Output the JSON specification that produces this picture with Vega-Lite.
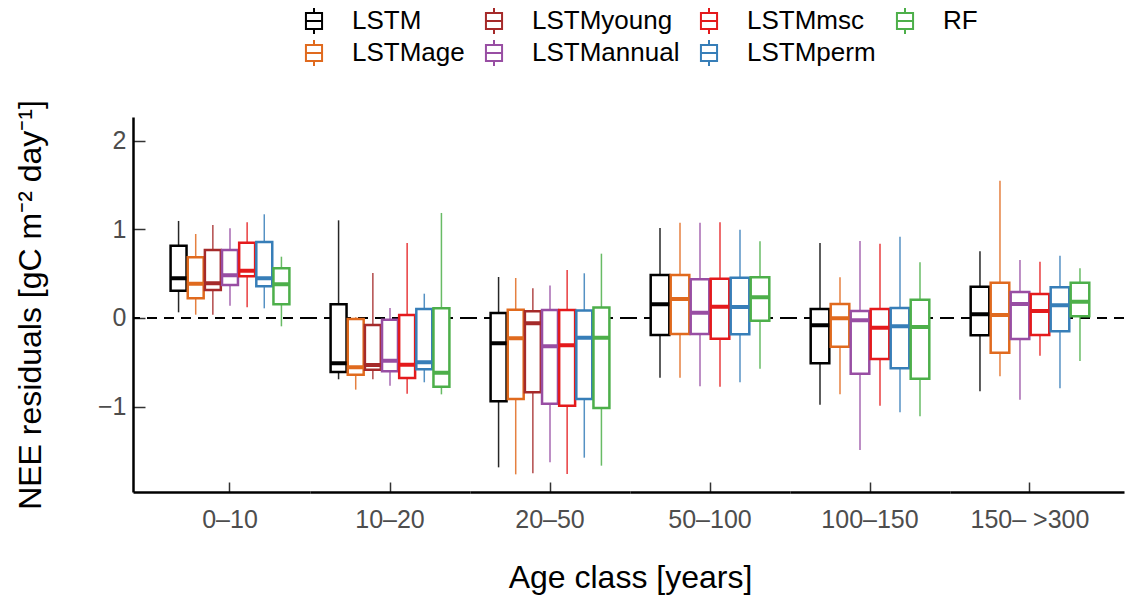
{
  "$schema": "https://vega.github.io/schema/vega-lite/v6.json",
  "padding": {"left": 14, "top": 7, "right": 5, "bottom": 5},
  "bounds": "flush",
  "datasets": {
    "box": [
      {"age": "0–10", "model": "LSTM", "lo": 0.064, "q1": 0.308, "med": 0.447, "q3": 0.815, "hi": 1.094},
      {"age": "0–10", "model": "LSTMage", "lo": 0.037, "q1": 0.222, "med": 0.387, "q3": 0.684, "hi": 0.947},
      {"age": "0–10", "model": "LSTMyoung", "lo": 0.037, "q1": 0.316, "med": 0.391, "q3": 0.767, "hi": 1.049},
      {"age": "0–10", "model": "LSTMannual", "lo": 0.139, "q1": 0.372, "med": 0.481, "q3": 0.767, "hi": 1.011},
      {"age": "0–10", "model": "LSTMmsc", "lo": 0.121, "q1": 0.47, "med": 0.533, "q3": 0.849, "hi": 1.079},
      {"age": "0–10", "model": "LSTMperm", "lo": 0.109, "q1": 0.357, "med": 0.447, "q3": 0.857, "hi": 1.169},
      {"age": "0–10", "model": "RF", "lo": -0.094, "q1": 0.154, "med": 0.38, "q3": 0.56, "hi": 0.691},
      {"age": "10–20", "model": "LSTM", "lo": -0.691, "q1": -0.609, "med": -0.511, "q3": 0.154, "hi": 1.101},
      {"age": "10–20", "model": "LSTMage", "lo": -0.808, "q1": -0.639, "med": -0.556, "q3": -0.011, "hi": 0.008},
      {"age": "10–20", "model": "LSTMyoung", "lo": -0.691, "q1": -0.583, "med": -0.53, "q3": -0.079, "hi": 0.507},
      {"age": "10–20", "model": "LSTMannual", "lo": -0.763, "q1": -0.601, "med": -0.481, "q3": -0.019, "hi": 0.113},
      {"age": "10–20", "model": "LSTMmsc", "lo": -0.853, "q1": -0.676, "med": -0.526, "q3": 0.034, "hi": 0.846},
      {"age": "10–20", "model": "LSTMperm", "lo": -0.725, "q1": -0.579, "med": -0.5, "q3": 0.101, "hi": 0.274},
      {"age": "10–20", "model": "RF", "lo": -0.861, "q1": -0.774, "med": -0.617, "q3": 0.109, "hi": 1.184},
      {"age": "20–50", "model": "LSTM", "lo": -1.684, "q1": -0.94, "med": -0.286, "q3": 0.056, "hi": 0.462},
      {"age": "20–50", "model": "LSTMage", "lo": -1.763, "q1": -0.913, "med": -0.229, "q3": 0.094, "hi": 0.451},
      {"age": "20–50", "model": "LSTMyoung", "lo": -1.751, "q1": -0.838, "med": -0.06, "q3": 0.075, "hi": 0.335},
      {"age": "20–50", "model": "LSTMannual", "lo": -1.627, "q1": -0.966, "med": -0.32, "q3": 0.09, "hi": 0.365},
      {"age": "20–50", "model": "LSTMmsc", "lo": -1.759, "q1": -0.989, "med": -0.308, "q3": 0.09, "hi": 0.541},
      {"age": "20–50", "model": "LSTMperm", "lo": -1.575, "q1": -0.913, "med": -0.222, "q3": 0.083, "hi": 0.504},
      {"age": "20–50", "model": "RF", "lo": -1.665, "q1": -1.015, "med": -0.222, "q3": 0.117, "hi": 0.725},
      {"age": "50–100", "model": "LSTM", "lo": -0.673, "q1": -0.192, "med": 0.154, "q3": 0.485, "hi": 1.015},
      {"age": "50–100", "model": "LSTMage", "lo": -0.673, "q1": -0.18, "med": 0.214, "q3": 0.485, "hi": 1.075},
      {"age": "50–100", "model": "LSTMannual", "lo": -0.77, "q1": -0.18, "med": 0.06, "q3": 0.436, "hi": 1.075},
      {"age": "50–100", "model": "LSTMmsc", "lo": -0.774, "q1": -0.233, "med": 0.128, "q3": 0.443, "hi": 1.079},
      {"age": "50–100", "model": "LSTMperm", "lo": -0.725, "q1": -0.184, "med": 0.124, "q3": 0.455, "hi": 0.996},
      {"age": "50–100", "model": "RF", "lo": -0.571, "q1": -0.03, "med": 0.233, "q3": 0.458, "hi": 0.865},
      {"age": "100–150", "model": "LSTM", "lo": -0.977, "q1": -0.511, "med": -0.083, "q3": 0.101, "hi": 0.846},
      {"age": "100–150", "model": "LSTMage", "lo": -0.861, "q1": -0.323, "med": -0.004, "q3": 0.158, "hi": 0.459},
      {"age": "100–150", "model": "LSTMannual", "lo": -1.488, "q1": -0.628, "med": -0.026, "q3": 0.079, "hi": 0.868},
      {"age": "100–150", "model": "LSTMmsc", "lo": -0.989, "q1": -0.462, "med": -0.109, "q3": 0.101, "hi": 0.838},
      {"age": "100–150", "model": "LSTMperm", "lo": -1.063, "q1": -0.567, "med": -0.094, "q3": 0.113, "hi": 0.917},
      {"age": "100–150", "model": "RF", "lo": -1.108, "q1": -0.684, "med": -0.101, "q3": 0.206, "hi": 0.628},
      {"age": "150– >300", "model": "LSTM", "lo": -0.827, "q1": -0.195, "med": 0.041, "q3": 0.353, "hi": 0.752},
      {"age": "150– >300", "model": "LSTMage", "lo": -0.658, "q1": -0.391, "med": 0.034, "q3": 0.398, "hi": 1.548},
      {"age": "150– >300", "model": "LSTMannual", "lo": -0.921, "q1": -0.237, "med": 0.158, "q3": 0.293, "hi": 0.654},
      {"age": "150– >300", "model": "LSTMmsc", "lo": -0.425, "q1": -0.192, "med": 0.079, "q3": 0.271, "hi": 0.635},
      {"age": "150– >300", "model": "LSTMperm", "lo": -0.793, "q1": -0.15, "med": 0.143, "q3": 0.346, "hi": 0.703},
      {"age": "150– >300", "model": "RF", "lo": -0.485, "q1": 0.019, "med": 0.184, "q3": 0.398, "hi": 0.56}
    ]
  },
  "data": {"name": "box"},
  "spacing": 0,
  "hconcat": [
    {
      "width": 177, "height": 375,
      "transform": [{"filter": "datum.age === '0–10'"}],
      "layer": [
        {"mark": {"type": "rule", "strokeDash": [10, 7], "strokeWidth": 2.2, "color": "black"},
         "encoding": {"y": {"datum": 0, "type": "quantitative", "scale": {"domain": [-1.962, 2.266], "nice": false, "zero": false},
           "axis": {"values": [-1, 0, 1, 2], "format": "~g", "title": "NEE residuals [gC m⁻² day⁻¹]", "tickSize": -12, "labelPadding": 19, "titlePadding": 50, "domain": true}}}},
        {"mark": {"type": "rule", "strokeWidth": 1.5, "opacity": 0.85},
         "encoding": {
           "x": {"field": "age", "type": "nominal", "title": null, "scale": {"paddingInner": 0, "paddingOuter": 0.2375, "align": 0.649}},
           "xOffset": {"field": "model", "type": "nominal", "sort": ["LSTM", "LSTMage", "LSTMyoung", "LSTMannual", "LSTMmsc", "LSTMperm", "RF"], "scale": {"paddingInner": 0.07, "paddingOuter": 0.035}},
           "y": {"field": "lo", "type": "quantitative"}, "y2": {"field": "hi"},
           "stroke": {"field": "model", "type": "nominal", "scale": {"domain": ["LSTM", "LSTMyoung", "LSTMmsc", "RF", "LSTMage", "LSTMannual", "LSTMperm"], "range": ["#000000", "#A52A2A", "#E41A1C", "#4DAF4A", "#E06A1E", "#984EA3", "#377EB8"]},
             "legend": {"orient": "none", "legendX": 167, "legendY": -110, "direction": "horizontal", "columns": 4, "title": null,
               "symbolType": "M-0.62,-0.62H0.62V0.62H-0.62Z M-0.62,0H0.62 M0,-0.62V-1 M0,0.62V1", "symbolSize": 676, "symbolStrokeWidth": 2, "symbolFillColor": "transparent", "symbolOpacity": 1,
               "labelFontSize": 26, "labelColor": "black", "labelOffset": 24, "columnPadding": 15, "rowPadding": -2, "labelLimit": 400}}
         }},
        {"mark": {"type": "bar", "fill": "white", "strokeWidth": 2.5},
         "encoding": {
           "x": {"field": "age", "type": "nominal"},
           "xOffset": {"field": "model", "type": "nominal", "sort": ["LSTM", "LSTMage", "LSTMyoung", "LSTMannual", "LSTMmsc", "LSTMperm", "RF"]},
           "y": {"field": "q1", "type": "quantitative"}, "y2": {"field": "q3"},
           "stroke": {"field": "model", "type": "nominal"}
         }},
        {"mark": {"type": "bar", "fill": "transparent", "strokeWidth": 4},
         "encoding": {
           "x": {"field": "age", "type": "nominal"},
           "xOffset": {"field": "model", "type": "nominal", "sort": ["LSTM", "LSTMage", "LSTMyoung", "LSTMannual", "LSTMmsc", "LSTMperm", "RF"]},
           "y": {"field": "med", "type": "quantitative"}, "y2": {"field": "med"},
           "stroke": {"field": "model", "type": "nominal"}
         }}
      ]
    },
    {
      "width": 160, "height": 375,
      "transform": [{"filter": "datum.age === '10–20'"}],
      "layer": [
        {"mark": {"type": "rule", "strokeDash": [10, 7], "strokeWidth": 2.2, "color": "black"},
         "encoding": {"y": {"datum": 0, "type": "quantitative", "scale": {"domain": [-1.962, 2.266], "nice": false, "zero": false}, "axis": null}}},
        {"mark": {"type": "rule", "strokeWidth": 1.5, "opacity": 0.85},
         "encoding": {
           "x": {"field": "age", "type": "nominal", "title": null, "scale": {"paddingInner": 0, "paddingOuter": 0.1667, "align": 0.5}},
           "xOffset": {"field": "model", "type": "nominal", "sort": ["LSTM", "LSTMage", "LSTMyoung", "LSTMannual", "LSTMmsc", "LSTMperm", "RF"], "scale": {"paddingInner": 0.07, "paddingOuter": 0.035}},
           "y": {"field": "lo", "type": "quantitative", "axis": null}, "y2": {"field": "hi"},
           "stroke": {"field": "model", "type": "nominal"}
         }},
        {"mark": {"type": "bar", "fill": "white", "strokeWidth": 2.5},
         "encoding": {
           "x": {"field": "age", "type": "nominal"},
           "xOffset": {"field": "model", "type": "nominal", "sort": ["LSTM", "LSTMage", "LSTMyoung", "LSTMannual", "LSTMmsc", "LSTMperm", "RF"]},
           "y": {"field": "q1", "type": "quantitative", "axis": null}, "y2": {"field": "q3"},
           "stroke": {"field": "model", "type": "nominal"}
         }},
        {"mark": {"type": "bar", "fill": "transparent", "strokeWidth": 4},
         "encoding": {
           "x": {"field": "age", "type": "nominal"},
           "xOffset": {"field": "model", "type": "nominal", "sort": ["LSTM", "LSTMage", "LSTMyoung", "LSTMannual", "LSTMmsc", "LSTMperm", "RF"]},
           "y": {"field": "med", "type": "quantitative", "axis": null}, "y2": {"field": "med"},
           "stroke": {"field": "model", "type": "nominal"}
         }}
      ]
    },
    {
      "width": 160, "height": 375,
      "transform": [{"filter": "datum.age === '20–50'"}],
      "layer": [
        {"mark": {"type": "rule", "strokeDash": [10, 7], "strokeWidth": 2.2, "color": "black"},
         "encoding": {"y": {"datum": 0, "type": "quantitative", "scale": {"domain": [-1.962, 2.266], "nice": false, "zero": false}, "axis": null}}},
        {"mark": {"type": "rule", "strokeWidth": 1.5, "opacity": 0.85},
         "encoding": {
           "x": {"field": "age", "type": "nominal", "scale": {"paddingInner": 0, "paddingOuter": 0.1667, "align": 0.5},
             "axis": {"title": "Age class [years]", "titleX": 160, "titleAlign": "center", "titleAnchor": null, "titleFontSize": 32, "titlePadding": 30}},
           "xOffset": {"field": "model", "type": "nominal", "sort": ["LSTM", "LSTMage", "LSTMyoung", "LSTMannual", "LSTMmsc", "LSTMperm", "RF"], "scale": {"paddingInner": 0.07, "paddingOuter": 0.035}},
           "y": {"field": "lo", "type": "quantitative", "axis": null}, "y2": {"field": "hi"},
           "stroke": {"field": "model", "type": "nominal"}
         }},
        {"mark": {"type": "bar", "fill": "white", "strokeWidth": 2.5},
         "encoding": {
           "x": {"field": "age", "type": "nominal"},
           "xOffset": {"field": "model", "type": "nominal", "sort": ["LSTM", "LSTMage", "LSTMyoung", "LSTMannual", "LSTMmsc", "LSTMperm", "RF"]},
           "y": {"field": "q1", "type": "quantitative", "axis": null}, "y2": {"field": "q3"},
           "stroke": {"field": "model", "type": "nominal"}
         }},
        {"mark": {"type": "bar", "fill": "transparent", "strokeWidth": 4},
         "encoding": {
           "x": {"field": "age", "type": "nominal"},
           "xOffset": {"field": "model", "type": "nominal", "sort": ["LSTM", "LSTMage", "LSTMyoung", "LSTMannual", "LSTMmsc", "LSTMperm", "RF"]},
           "y": {"field": "med", "type": "quantitative", "axis": null}, "y2": {"field": "med"},
           "stroke": {"field": "model", "type": "nominal"}
         }}
      ]
    },
    {
      "width": 160, "height": 375,
      "transform": [{"filter": "datum.age === '50–100'"}],
      "layer": [
        {"mark": {"type": "rule", "strokeDash": [10, 7], "strokeWidth": 2.2, "color": "black"},
         "encoding": {"y": {"datum": 0, "type": "quantitative", "scale": {"domain": [-1.962, 2.266], "nice": false, "zero": false}, "axis": null}}},
        {"mark": {"type": "rule", "strokeWidth": 1.5, "opacity": 0.85},
         "encoding": {
           "x": {"field": "age", "type": "nominal", "title": null, "scale": {"paddingInner": 0, "paddingOuter": 0.1667, "align": 0.5}},
           "xOffset": {"field": "model", "type": "nominal", "sort": ["LSTM", "LSTMage", "LSTMyoung", "LSTMannual", "LSTMmsc", "LSTMperm", "RF"], "scale": {"paddingInner": 0.07, "paddingOuter": 0.035}},
           "y": {"field": "lo", "type": "quantitative", "axis": null}, "y2": {"field": "hi"},
           "stroke": {"field": "model", "type": "nominal"}
         }},
        {"mark": {"type": "bar", "fill": "white", "strokeWidth": 2.5},
         "encoding": {
           "x": {"field": "age", "type": "nominal"},
           "xOffset": {"field": "model", "type": "nominal", "sort": ["LSTM", "LSTMage", "LSTMyoung", "LSTMannual", "LSTMmsc", "LSTMperm", "RF"]},
           "y": {"field": "q1", "type": "quantitative", "axis": null}, "y2": {"field": "q3"},
           "stroke": {"field": "model", "type": "nominal"}
         }},
        {"mark": {"type": "bar", "fill": "transparent", "strokeWidth": 4},
         "encoding": {
           "x": {"field": "age", "type": "nominal"},
           "xOffset": {"field": "model", "type": "nominal", "sort": ["LSTM", "LSTMage", "LSTMyoung", "LSTMannual", "LSTMmsc", "LSTMperm", "RF"]},
           "y": {"field": "med", "type": "quantitative", "axis": null}, "y2": {"field": "med"},
           "stroke": {"field": "model", "type": "nominal"}
         }}
      ]
    },
    {
      "width": 160, "height": 375,
      "transform": [{"filter": "datum.age === '100–150'"}],
      "layer": [
        {"mark": {"type": "rule", "strokeDash": [10, 7], "strokeWidth": 2.2, "color": "black"},
         "encoding": {"y": {"datum": 0, "type": "quantitative", "scale": {"domain": [-1.962, 2.266], "nice": false, "zero": false}, "axis": null}}},
        {"mark": {"type": "rule", "strokeWidth": 1.5, "opacity": 0.85},
         "encoding": {
           "x": {"field": "age", "type": "nominal", "title": null, "scale": {"paddingInner": 0, "paddingOuter": 0.1667, "align": 0.5}},
           "xOffset": {"field": "model", "type": "nominal", "sort": ["LSTM", "LSTMage", "LSTMyoung", "LSTMannual", "LSTMmsc", "LSTMperm", "RF"], "scale": {"paddingInner": 0.07, "paddingOuter": 0.035}},
           "y": {"field": "lo", "type": "quantitative", "axis": null}, "y2": {"field": "hi"},
           "stroke": {"field": "model", "type": "nominal"}
         }},
        {"mark": {"type": "bar", "fill": "white", "strokeWidth": 2.5},
         "encoding": {
           "x": {"field": "age", "type": "nominal"},
           "xOffset": {"field": "model", "type": "nominal", "sort": ["LSTM", "LSTMage", "LSTMyoung", "LSTMannual", "LSTMmsc", "LSTMperm", "RF"]},
           "y": {"field": "q1", "type": "quantitative", "axis": null}, "y2": {"field": "q3"},
           "stroke": {"field": "model", "type": "nominal"}
         }},
        {"mark": {"type": "bar", "fill": "transparent", "strokeWidth": 4},
         "encoding": {
           "x": {"field": "age", "type": "nominal"},
           "xOffset": {"field": "model", "type": "nominal", "sort": ["LSTM", "LSTMage", "LSTMyoung", "LSTMannual", "LSTMmsc", "LSTMperm", "RF"]},
           "y": {"field": "med", "type": "quantitative", "axis": null}, "y2": {"field": "med"},
           "stroke": {"field": "model", "type": "nominal"}
         }}
      ]
    },
    {
      "width": 174, "height": 375,
      "transform": [{"filter": "datum.age === '150– >300'"}],
      "layer": [
        {"mark": {"type": "rule", "strokeDash": [10, 7], "strokeWidth": 2.2, "color": "black"},
         "encoding": {"y": {"datum": 0, "type": "quantitative", "scale": {"domain": [-1.962, 2.266], "nice": false, "zero": false}, "axis": null}}},
        {"mark": {"type": "rule", "strokeWidth": 1.5, "opacity": 0.85},
         "encoding": {
           "x": {"field": "age", "type": "nominal", "title": null, "scale": {"paddingInner": 0, "paddingOuter": 0.225, "align": 0.37}},
           "xOffset": {"field": "model", "type": "nominal", "sort": ["LSTM", "LSTMage", "LSTMyoung", "LSTMannual", "LSTMmsc", "LSTMperm", "RF"], "scale": {"paddingInner": 0.07, "paddingOuter": 0.035}},
           "y": {"field": "lo", "type": "quantitative", "axis": null}, "y2": {"field": "hi"},
           "stroke": {"field": "model", "type": "nominal"}
         }},
        {"mark": {"type": "bar", "fill": "white", "strokeWidth": 2.5},
         "encoding": {
           "x": {"field": "age", "type": "nominal"},
           "xOffset": {"field": "model", "type": "nominal", "sort": ["LSTM", "LSTMage", "LSTMyoung", "LSTMannual", "LSTMmsc", "LSTMperm", "RF"]},
           "y": {"field": "q1", "type": "quantitative", "axis": null}, "y2": {"field": "q3"},
           "stroke": {"field": "model", "type": "nominal"}
         }},
        {"mark": {"type": "bar", "fill": "transparent", "strokeWidth": 4},
         "encoding": {
           "x": {"field": "age", "type": "nominal"},
           "xOffset": {"field": "model", "type": "nominal", "sort": ["LSTM", "LSTMage", "LSTMyoung", "LSTMannual", "LSTMmsc", "LSTMperm", "RF"]},
           "y": {"field": "med", "type": "quantitative", "axis": null}, "y2": {"field": "med"},
           "stroke": {"field": "model", "type": "nominal"}
         }}
      ]
    }
  ],
  "resolve": {"scale": {"x": "independent", "xOffset": "independent", "y": "independent", "stroke": "shared"}, "legend": {"stroke": "shared"}},
  "config": {
    "font": "Liberation Sans",
    "view": {"stroke": null},
    "axis": {"grid": false, "domainColor": "black", "domainWidth": 2.5, "tickColor": "#333333", "tickWidth": 1.5,
      "labelFontSize": 25, "labelColor": "#4d4d4d", "titleFontSize": 32, "titleFontWeight": "normal", "titleColor": "black"},
    "axisX": {"tickSize": -10, "labelPadding": 25, "labelAngle": 0}
  }
}
